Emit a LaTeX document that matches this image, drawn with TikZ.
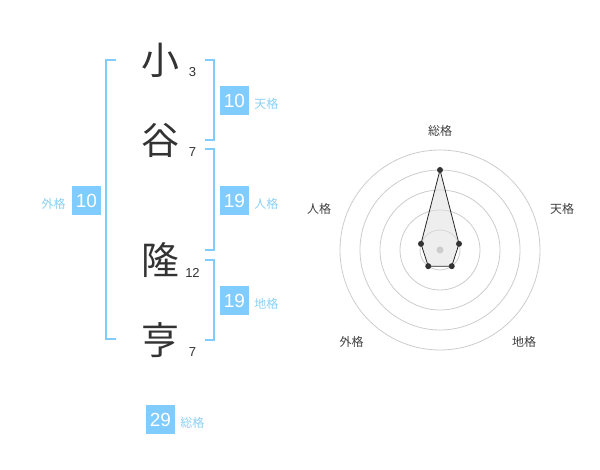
\documentclass[tikz,border=0pt]{standalone}
\usepackage{fontspec}
\setmainfont{Liberation Sans}
\newfontfamily\jp{Noto Sans CJK JP}
\definecolor{kakublue}{HTML}{80CCFF}
\definecolor{kakutext}{HTML}{8CCFF4}
\definecolor{ringgray}{HTML}{CCCCCC}

\begin{document}
\begin{tikzpicture}[x=1pt,y=1pt,
    kanji/.style={font=\jp\fontsize{38}{38}\selectfont, text=black!80, inner sep=0pt},
    strokes/.style={font=\fontsize{13}{13}\selectfont, text=black!80, inner sep=0pt},
    kakubox/.style={fill=kakublue, text=white, minimum size=29pt, inner sep=0pt, font=\fontsize{19}{19}\selectfont},
    kakuname/.style={font=\jp\fontsize{12}{12}\selectfont, text=kakutext, inner sep=0pt},
    bracket/.style={draw=kakublue, line width=2pt},
    radarname/.style={font=\jp\fontsize{12}{12}\selectfont, text=black!75, inner sep=0pt}]

    \useasboundingbox (0,0) rectangle (600,470);

    \node[kanji] (ko) at (160,410) {小};
    \node[kanji] (tani) at (160,330) {谷};
    \node[kanji] (taka) at (160,210) {隆};
    \node[kanji] (toru) at (160,130) {亨};

    \node[strokes] (n1) at (192.5,397.5) {3};
    \node[strokes] (n2) at (192.5,317.5) {7};
    \node[strokes] (n3) at (192.5,197.5) {12};
    \node[strokes] (n4) at (192.5,117.5) {7};

    \draw[bracket] (116,410) -- (106,410) -- (106,131) -- (116,131);
    \draw[bracket] (205,410) -- (214,410) -- (214,330) -- (205,330);
    \draw[bracket] (205,320.5) -- (214,320.5) -- (214,220) -- (205,220);
    \draw[bracket] (205,210) -- (214,210) -- (214,130) -- (205,130);

    \node[kakubox] (ten) at (234.5,369.5) {10};
    \node[kakubox] (jin) at (234.5,269.5) {19};
    \node[kakubox] (chi) at (234.5,169.5) {19};
    \node[kakubox] (gai) at (86.5,269.5) {10};
    \node[kakubox] (sou) at (160.5,50.5) {29};

    \node[kakuname, anchor=west] (tenname) at ([xshift=5pt,yshift=-3pt]ten.east) {天格};
    \node[kakuname, anchor=west] (jinname) at ([xshift=5pt,yshift=-3pt]jin.east) {人格};
    \node[kakuname, anchor=west] (chiname) at ([xshift=5pt,yshift=-3pt]chi.east) {地格};
    \node[kakuname, anchor=east] (gainame) at ([xshift=-6pt,yshift=-3pt]gai.west) {外格};
    \node[kakuname, anchor=west] (souname) at ([xshift=5pt,yshift=-3pt]sou.east) {総格};

    \coordinate (c) at (440,220);
    \foreach \r in {20,40,...,100}
        \draw[ringgray, line width=0.8pt] (c) circle (\r);

    \node[radarname] (rsou) at (440,339.3) {総格};
    \node[radarname] (rten) at (562,261.5) {天格};
    \node[radarname] (rjin) at (319,261.5) {人格};
    \node[radarname] (rchi) at (524,128.3) {地格};
    \node[radarname] (rgai) at (351.5,128.3) {外格};

    \path (c) ++(90:80) coordinate (psou);
    \path (c) ++(18:20) coordinate (pten);
    \path (c) ++(-54:20) coordinate (pchi);
    \path (c) ++(234:20) coordinate (pgai);
    \path (c) ++(162:20) coordinate (pjin);

    \filldraw[fill=black!12, fill opacity=0.55, draw=black!85, line width=0.8pt]
        (psou) -- (pten) -- (pchi) -- (pgai) -- (pjin) -- cycle;
    \fill[ringgray] (c) circle (3.5);
    \foreach \p in {psou,pten,pchi,pgai,pjin}
        \fill[black!80] (\p) circle (3);

\end{tikzpicture}
\end{document}
